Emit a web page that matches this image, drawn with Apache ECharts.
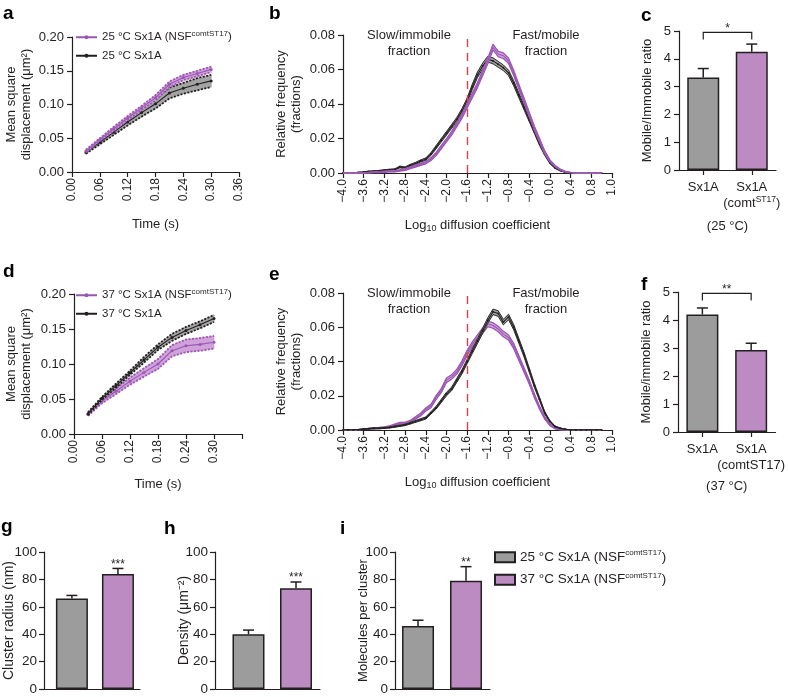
<!DOCTYPE html>
<html><head><meta charset="utf-8">
<script src="https://cdn.jsdelivr.net/npm/echarts@6/dist/echarts.min.js"></script>
<style>html,body{margin:0;padding:0;background:#fff}#c{width:788px;height:697px}</style>
</head><body><div id="c"></div><script>
const FONT = '"Liberation Sans", Arial, Helvetica, sans-serif';

// ---------- panels a & d : mean square displacement vs time ----------
const msdTime     = [0.03, 0.06, 0.09, 0.12, 0.15, 0.18, 0.21, 0.24, 0.27, 0.30];
const msd25Nsf    = [0.031, 0.048, 0.064, 0.080, 0.095, 0.110, 0.130, 0.140, 0.146, 0.152];
const msd25NsfSem = [0.002, 0.002, 0.003, 0.003, 0.003, 0.004, 0.004, 0.004, 0.004, 0.004];
const msd25Wt     = [0.029, 0.044, 0.059, 0.074, 0.088, 0.101, 0.117, 0.124, 0.130, 0.135];
const msd25WtSem  = [0.002, 0.003, 0.004, 0.005, 0.006, 0.007, 0.008, 0.008, 0.009, 0.009];
const msd37Nsf    = [0.028, 0.047, 0.061, 0.0755, 0.088, 0.100, 0.119, 0.126, 0.128, 0.131];
const msd37NsfSem = [0.002, 0.003, 0.004, 0.005, 0.006, 0.007, 0.008, 0.009, 0.009, 0.009];
const msd37Wt     = [0.029, 0.051, 0.069, 0.0875, 0.106, 0.124, 0.138, 0.148, 0.156, 0.165];
const msd37WtSem  = [0.002, 0.002, 0.003, 0.003, 0.004, 0.004, 0.005, 0.005, 0.005, 0.005];

// ---------- panels b & e : distribution of log10 diffusion coefficients ----------
const logD = [-4.0,-3.9,-3.8,-3.7,-3.6,-3.5,-3.4,-3.3,-3.2,-3.1,
              -3.0,-2.9,-2.8,-2.7,-2.6,-2.5,-2.4,-2.3,-2.2,-2.1,
              -2.0,-1.9,-1.8,-1.7,-1.6,-1.5,-1.4,-1.3,-1.2,-1.1,
              -1.0,-0.9,-0.8,-0.7,-0.6,-0.5,-0.4,-0.3,-0.2,-0.1,
               0.0, 0.1, 0.2, 0.3, 0.4, 0.5, 0.6, 0.7, 0.8, 0.9, 1.0];
const hist25Wt = [0,0,0,0.0003,0.0005,0.0008,0.001,0.0012,0.0015,0.0018,
                  0.002,0.0035,0.003,0.0045,0.0055,0.007,0.008,0.011,0.015,0.019,
                  0.023,0.027,0.031,0.036,0.042,0.050,0.057,0.062,0.066,0.065,
                  0.063,0.061,0.058,0.052,0.045,0.038,0.031,0.024,0.017,0.011,
                  0.006,0.003,0.0015,0.0005,0,0,0,0,0,0,0];
const hist25WtSem = [0,0,0,0.0002,0.0002,0.0003,0.0003,0.0003,0.0004,0.0004,
                  0.0004,0.0005,0.0005,0.0005,0.0006,0.0006,0.0007,0.0008,0.0009,0.001,
                  0.001,0.0011,0.0012,0.0013,0.0014,0.0015,0.0016,0.0017,0.0017,0.0017,
                  0.0017,0.0016,0.0016,0.0015,0.0014,0.0013,0.0012,0.0011,0.001,0.0008,
                  0.0006,0.0004,0.0003,0.0002,0,0,0,0,0,0,0];
const hist25Nsf = [0,0,0,0,0,0.0002,0.0004,0.0005,0.0007,0.0009,
                  0.001,0.0015,0.002,0.003,0.004,0.005,0.006,0.008,0.011,0.015,
                  0.019,0.023,0.028,0.033,0.039,0.045,0.051,0.058,0.065,0.073,
                  0.069,0.068,0.065,0.058,0.050,0.042,0.034,0.026,0.019,0.012,
                  0.007,0.004,0.002,0.0008,0.0003,0,0,0,0,0,0];
const hist25NsfSem = [0,0,0,0,0,0.0002,0.0002,0.0003,0.0003,0.0003,
                  0.0004,0.0004,0.0005,0.0005,0.0006,0.0006,0.0007,0.0008,0.0009,0.001,
                  0.001,0.0011,0.0012,0.0012,0.0013,0.0014,0.0015,0.0015,0.0016,0.0016,
                  0.0016,0.0016,0.0015,0.0015,0.0014,0.0013,0.0012,0.0011,0.001,0.0008,
                  0.0006,0.0004,0.0003,0.0002,0.0001,0,0,0,0,0,0];
const hist37Wt = [0,0,0,0.0002,0.0005,0.0008,0.001,0.001,0.0012,0.0015,
                  0.002,0.0025,0.003,0.004,0.005,0.006,0.007,0.010,0.013,0.017,
                  0.021,0.024,0.029,0.034,0.040,0.046,0.052,0.058,0.064,0.069,
                  0.068,0.063,0.066,0.060,0.052,0.044,0.035,0.026,0.018,0.010,
                  0.005,0.002,0.001,0.0004,0,0,0,0,0,0,0];
const hist37WtSem = [0,0,0,0.0001,0.0002,0.0002,0.0003,0.0003,0.0003,0.0003,
                  0.0004,0.0004,0.0004,0.0005,0.0005,0.0006,0.0006,0.0007,0.0008,0.0009,
                  0.001,0.001,0.0011,0.0012,0.0012,0.0013,0.0014,0.0015,0.0016,0.0016,
                  0.0016,0.0016,0.0016,0.0015,0.0014,0.0013,0.0012,0.0011,0.0009,0.0007,
                  0.0005,0.0003,0.0002,0.0001,0,0,0,0,0,0,0];
const hist37Nsf = [0,0,0,0.0002,0.0005,0.0007,0.001,0.0012,0.0015,0.002,
                  0.003,0.004,0.004,0.005,0.007,0.009,0.012,0.014,0.019,0.023,
                  0.029,0.031,0.034,0.039,0.045,0.050,0.054,0.058,0.062,0.061,
                  0.059,0.056,0.054,0.049,0.042,0.035,0.028,0.020,0.013,0.007,
                  0.003,0.001,0.0003,0,0,0,0,0,0,0,0];
const hist37NsfSem = [0,0,0,0.0001,0.0002,0.0002,0.0003,0.0003,0.0004,0.0004,
                  0.0005,0.0005,0.0005,0.0006,0.0007,0.0008,0.0009,0.001,0.0011,0.0012,
                  0.0013,0.0013,0.0014,0.0014,0.0015,0.0015,0.0016,0.0016,0.0016,0.0016,
                  0.0016,0.0016,0.0015,0.0015,0.0014,0.0013,0.0012,0.0011,0.0009,0.0007,
                  0.0005,0.0003,0.0002,0,0,0,0,0,0,0,0];
const mobilityThreshold = -1.6;
const logDTickLabels = ['\u22124.0','\u22123.6','\u22123.2','\u22122.8','\u22122.4','\u22122.0','\u22121.6',
                        '\u22121.2','\u22120.8','\u22120.4','0.0','0.4','0.8','1.0'];

// ---------- panels c & f : mobile / immobile ratio ----------
const ratioCats25 = ['Sx1A', 'Sx1A\n(comt{sup|ST17})'];
const ratio25     = [3.33, 4.25];
const ratio25Err  = [0.32, 0.28];
const ratio25Sig  = '*';
const ratioCats37 = ['Sx1A', 'Sx1A\n(comtST17)'];
const ratio37     = [4.20, 2.93];
const ratio37Err  = [0.23, 0.24];
const ratio37Sig  = '**';
const bracketLevel = 4.95;

// ---------- panels g, h, i : cluster analysis ----------
const groups      = ['25 \u00b0C Sx1A (NSFcomtST17)\u200b', '37 \u00b0C Sx1A (NSFcomtST17)\u200b'];
const radius      = [66, 84];
const radiusErr   = [2.3, 4.0];
const radiusSig   = ['', '***'];
const density     = [40, 73.5];
const densityErr  = [3.0, 4.6];
const densitySig  = ['', '***'];
const molecules   = [46, 79];
const moleculesErr= [4.2, 10.3];
const moleculesSig= ['', '**'];

// ---------- styling ----------
const INK = '#231f20';
const GRAY = '#9c9c9c';
const PURPLE = '#bb8bc1';
const PLINE = '#9b55b3';
const PBAND = '#cfa2da';
const GBAND = '#a4a4a4';

const grids = [
  {left:72,  top:37,  width:167, height:135}, // a
  {left:343, top:35,  width:269, height:138}, // b
  {left:679, top:31,  width:97,  height:139}, // c
  {left:74,  top:294, width:168, height:140}, // d
  {left:343, top:293, width:269, height:137}, // e
  {left:678, top:292, width:98,  height:140}, // f
  {left:42,  top:552, width:98,  height:137}, // g
  {left:215, top:552, width:105, height:137}, // h
  {left:395, top:552, width:95,  height:137}  // i
];

const axLine = {show:true, onZero:false, lineStyle:{color:INK, width:1.2}};
const axTick = {show:true, length:5, lineStyle:{color:INK, width:1.2}};
function txt(fs){ return {color:INK, fontFamily:FONT, fontSize:fs}; }

function yAx(gi, min, max, interval, fmt, name, nameGap, fs, nfs, margin){
  return {type:'value', gridIndex:gi, min, max, interval,
    axisLine:axLine, axisTick:axTick, splitLine:{show:false},
    axisLabel:Object.assign(txt(fs), {margin:margin || 8, formatter:fmt}),
    name, nameLocation:'middle', nameGap, nameRotate:90, nameMoveOverlap:false,
    nameTextStyle:Object.assign(txt(nfs || fs), {lineHeight:(nfs || fs)+2})};
}
const f2 = v => v.toFixed(2);
const f0 = v => String(Math.round(v));

function logLabel(v){
  const idx = Math.round((v + 4.0) / 0.4);
  return logDTickLabels[idx] || '';
}
const subRich = {sub:{fontFamily:FONT, fontSize:9, color:INK, verticalAlign:'bottom', padding:[6,0,0,0]}};

const xAxes = [
  {type:'value', gridIndex:0, min:0, max:0.36, interval:0.06, axisLine:axLine, axisTick:axTick, splitLine:{show:false},
   axisLabel:Object.assign(txt(12), {rotate:90, margin:6, formatter:f2}),
   name:'Time (s)', nameLocation:'middle', nameGap:46, nameMoveOverlap:false, nameTextStyle:txt(13)},
  {type:'value', gridIndex:1, min:-4.0, max:1.2, interval:0.4, axisLine:axLine, axisTick:axTick, splitLine:{show:false},
   axisLabel:Object.assign(txt(12), {rotate:90, margin:6, formatter:logLabel}),
   name:'Log{sub|10} diffusion coefficient', nameLocation:'middle', nameGap:45, nameMoveOverlap:false,
   nameTextStyle:Object.assign(txt(13), {rich:subRich})},
  {type:'category', gridIndex:2, data:ratioCats25, axisLine:axLine, axisTick:Object.assign({alignWithLabel:true}, axTick),
   axisLabel:Object.assign(txt(13), {margin:9, lineHeight:16, interval:0, rich:{sup:{fontFamily:FONT, fontSize:8.5, color:INK, verticalAlign:'top', lineHeight:9}}}),
   name:'(25 \u00b0C)', nameLocation:'middle', nameGap:50, nameMoveOverlap:false, nameTextStyle:txt(13)},
  {type:'value', gridIndex:3, min:0, max:0.36, interval:0.06, axisLine:axLine, axisTick:axTick, splitLine:{show:false},
   axisLabel:Object.assign(txt(12), {rotate:90, margin:6, formatter:v => v > 0.35 ? '' : v.toFixed(2)}),
   name:'Time (s)', nameLocation:'middle', nameGap:44, nameMoveOverlap:false, nameTextStyle:txt(13)},
  {type:'value', gridIndex:4, min:-4.0, max:1.2, interval:0.4, axisLine:axLine, axisTick:axTick, splitLine:{show:false},
   axisLabel:Object.assign(txt(12), {rotate:90, margin:6, formatter:logLabel}),
   name:'Log{sub|10} diffusion coefficient', nameLocation:'middle', nameGap:45, nameMoveOverlap:false,
   nameTextStyle:Object.assign(txt(13), {rich:subRich})},
  {type:'category', gridIndex:5, data:ratioCats37, axisLine:axLine, axisTick:Object.assign({alignWithLabel:true}, axTick),
   axisLabel:Object.assign(txt(13), {margin:9, lineHeight:16, interval:0}),
   name:'(37 \u00b0C)', nameLocation:'middle', nameGap:48, nameMoveOverlap:false, nameTextStyle:txt(13)},
  {type:'value', gridIndex:6, min:-0.606, max:1.479, axisLine:axLine, axisTick:{show:false}, axisLabel:{show:false}, splitLine:{show:false}},
  {type:'value', gridIndex:7, min:-0.705, max:1.505, axisLine:axLine, axisTick:{show:false}, axisLabel:{show:false}, splitLine:{show:false}},
  {type:'value', gridIndex:8, min:-0.48,  max:1.5,   axisLine:axLine, axisTick:{show:false}, axisLabel:{show:false}, splitLine:{show:false}}
];

const yAxes = [
  yAx(0, 0, 0.20, 0.05, f2, 'Mean square\ndisplacement (\u03bcm\u00b2)', 38, 13),
  yAx(1, 0, 0.08, 0.02, f2, 'Relative frequency\n(fractions)', 39, 13),
  yAx(2, 0, 5, 1, f0, 'Mobile/Immobile ratio', 24, 13),
  yAx(3, 0, 0.20, 0.05, f2, 'Mean square\ndisplacement (\u03bcm\u00b2)', 40, 13),
  yAx(4, 0, 0.08, 0.02, f2, 'Relative frequency\n(fractions)', 39, 13),
  yAx(5, 0, 5, 1, f0, 'Mobile/immobile ratio', 24, 13),
  yAx(6, 0, 100, 20, f0, 'Cluster radius (nm)', 27, 13.5, 14, 7),
  yAx(7, 0, 100, 20, f0, 'Density (\u03bcm\u207b\u00b2)', 23, 13.5, 14, 7),
  yAx(8, 0, 100, 20, f0, 'Molecules per cluster', 24, 13.5, 13, 7)
];

// ---------- series helpers ----------
function band(gi, xs, mean, sem, fill, z){
  return {type:'custom', xAxisIndex:gi, yAxisIndex:gi, silent:true, z,
    data: xs.map((x,i) => [x, mean[i]-sem[i], mean[i]+sem[i]]),
    encode:{x:0, y:[1,2]},
    renderItem(params, api){
      const i = params.dataIndex;
      if (i >= xs.length-1) return;
      const a0 = api.coord([api.value(0), api.value(1)]);
      const a1 = api.coord([api.value(0), api.value(2)]);
      const b0 = api.coord([xs[i+1], mean[i+1]-sem[i+1]]);
      const b1 = api.coord([xs[i+1], mean[i+1]+sem[i+1]]);
      return {type:'polygon', shape:{points:[a0,b0,b1,a1]}, style:{fill, stroke:fill, lineWidth:0.8}};
    }};
}
function line(gi, name, xs, ys, color, width, type, symSize, z){
  return {type:'line', name, xAxisIndex:gi, yAxisIndex:gi, silent:true, z,
    data: xs.map((x,i) => [x, ys[i]]),
    symbol: symSize ? 'circle' : 'none', symbolSize: symSize || 0, showSymbol: !!symSize,
    lineStyle:{color, width, type}, itemStyle:{color}};
}
function withSem(gi, name, xs, mean, sem, lineColor, fill, edgeType, edgeW, meanSym, z){
  const lo = mean.map((m,i) => m - sem[i]);
  const hi = mean.map((m,i) => m + sem[i]);
  return [
    band(gi, xs, mean, sem, fill, z),
    line(gi, name + ' lower', xs, lo, lineColor, edgeW, edgeType, 0, z+0.1),
    line(gi, name + ' upper', xs, hi, lineColor, edgeW, edgeType, 0, z+0.1),
    line(gi, name, xs, mean, lineColor, 1.1, 'solid', meanSym, z+0.2)
  ];
}
function errBars(gi, xs, vals, errs, sigs){
  return {type:'custom', xAxisIndex:gi, yAxisIndex:gi, silent:true, z:5,
    data: xs.map((x,i) => [x, vals[i], errs[i]]),
    encode:{x:0, y:1},
    renderItem(params, api){
      const p0 = api.coord([api.value(0), api.value(1)]);
      const p1 = api.coord([api.value(0), api.value(1) + api.value(2)]);
      const ch = [
        {type:'line', shape:{x1:p0[0], y1:p0[1], x2:p1[0], y2:p1[1]}, style:{stroke:INK, lineWidth:1.5}},
        {type:'line', shape:{x1:p1[0]-5.5, y1:p1[1], x2:p1[0]+5.5, y2:p1[1]}, style:{stroke:INK, lineWidth:1.5}}
      ];
      const s = sigs && sigs[params.dataIndex];
      if (s) ch.push({type:'text', style:{text:s, x:p1[0], y:p1[1]+2, align:'center', verticalAlign:'bottom', fontSize:12, fontFamily:FONT, fill:INK}});
      return {type:'group', children:ch};
    }};
}
function bracket(gi, level, mark){
  return {type:'custom', xAxisIndex:gi, yAxisIndex:gi, silent:true, z:5,
    data:[[0, level], [1, level]],
    encode:{x:0, y:1},
    renderItem(params, api){
      if (params.dataIndex !== 0) return;
      const p0 = api.coord([0, api.value(1)]);
      const p1 = api.coord([1, api.value(1)]);
      return {type:'group', children:[
        {type:'polyline', shape:{points:[[p0[0], p0[1]+7], p0, p1, [p1[0], p1[1]+7]]}, style:{stroke:INK, lineWidth:1.2, fill:null}},
        {type:'text', style:{text:mark, x:(p0[0]+p1[0])/2, y:p0[1]+2, align:'center', verticalAlign:'bottom', fontSize:12, fontFamily:FONT, fill:INK}}
      ]};
    }};
}
function bars(gi, xs, vals, nameG, nameP){
  const base = {type:'bar', xAxisIndex:gi, yAxisIndex:gi, barWidth:32, barGap:'-100%', silent:true};
  return [
    Object.assign({}, base, {name:nameG, data:[[xs[0], vals[0]]], itemStyle:{color:GRAY, borderColor:INK, borderWidth:1.5}}),
    Object.assign({}, base, {name:nameP, data:[[xs[1], vals[1]]], itemStyle:{color:PURPLE, borderColor:INK, borderWidth:1.5}})
  ];
}

const N25 = '25 \u00b0C Sx1A (NSFcomtST17)', W25 = '25 \u00b0C Sx1A';
const N37 = '37 \u00b0C Sx1A (NSFcomtST17)', W37 = '37 \u00b0C Sx1A';

function threshold(gi){
  return {type:'line', xAxisIndex:gi, yAxisIndex:gi, data:[], silent:true, z:4,
    markLine:{silent:true, symbol:['none','none'], label:{show:false}, animation:false,
      lineStyle:{color:'#d9434d', type:[8,6], width:1.4}, data:[{xAxis:mobilityThreshold}]}};
}

const series = [].concat(
  // a
  withSem(0, W25, msdTime, msd25Wt, msd25WtSem, INK, GBAND, [2,1.5], 1.8, 3, 2),
  withSem(0, N25, msdTime, msd25Nsf, msd25NsfSem, PLINE, PBAND, [2,1.5], 1.8, 3, 3),
  // b
  withSem(1, 'b wt', logD, hist25Wt, hist25WtSem, INK, GBAND, 'solid', 0.9, 2, 2),
  withSem(1, 'b nsf', logD, hist25Nsf, hist25NsfSem, PLINE, PBAND, 'solid', 1.2, 0, 3),
  [threshold(1)],
  // c
  bars(2, [0,1], ratio25, 'c g', 'c p'),
  [errBars(2, [0,1], ratio25, ratio25Err, null), bracket(2, bracketLevel, ratio25Sig)],
  // d
  withSem(3, N37, msdTime, msd37Nsf, msd37NsfSem, PLINE, PBAND, [2,1.5], 1.8, 3, 2),
  withSem(3, W37, msdTime, msd37Wt, msd37WtSem, INK, GBAND, [2,1.5], 1.8, 3, 3),
  // e
  withSem(4, 'e nsf', logD, hist37Nsf, hist37NsfSem, PLINE, PBAND, 'solid', 1.2, 0, 2),
  withSem(4, 'e wt', logD, hist37Wt, hist37WtSem, INK, GBAND, 'solid', 0.9, 2, 3),
  [threshold(4)],
  // f
  bars(5, [0,1], ratio37, 'f g', 'f p'),
  [errBars(5, [0,1], ratio37, ratio37Err, null), bracket(5, bracketLevel, ratio37Sig)],
  // g h i
  bars(6, [0,1], radius, groups[0], groups[1]),
  [errBars(6, [0,1], radius, radiusErr, radiusSig)],
  bars(7, [0,1], density, groups[0], groups[1]),
  [errBars(7, [0,1], density, densityErr, densitySig)],
  bars(8, [0,1], molecules, groups[0], groups[1]),
  [errBars(8, [0,1], molecules, moleculesErr, moleculesSig)]
);

const supRich = {sup:{fontFamily:FONT, fontSize:8, color:INK, verticalAlign:'top', lineHeight:8}};
const legFmt = n => n.replace('\u200b','').replace('comtST17', '{sup|comtST17}');
function legend(left, top, data, fs, icon, iw, ih, gap){
  const l = {left, top, orient:'vertical', data, itemWidth:iw, itemHeight:ih, itemGap:gap, selectedMode:false,
    formatter:legFmt, textStyle:Object.assign(txt(fs), {lineHeight:fs+3, rich:supRich}), padding:0};
  if (icon) l.icon = icon;
  return l;
}

function label(x, y, t){
  return {type:'text', x, y, style:{text:t, font:'bold 19px ' + FONT, fill:'#000'}};
}
function note(x, y, t){
  return {type:'text', x, y, style:{text:t, font:'13px ' + FONT, fill:INK, align:'center', lineHeight:16}};
}

const option = {
  animation:false,
  backgroundColor:'#fff',
  grid: grids,
  xAxis: xAxes,
  yAxis: yAxes,
  legend: [
    legend(75, 30, [N25, W25], 11.5, null, 21, 5, 4),
    legend(75, 288, [N37, W37], 11.5, null, 21, 5, 4),
    legend(494, 549, groups, 13.5, 'rect', 20, 10, 6)
  ],
  graphic: [
    label(3, 4, 'a'), label(269, 4, 'b'), label(641, 6, 'c'),
    label(3, 262, 'd'), label(269, 265, 'e'), label(641, 275, 'f'),
    label(1, 517, 'g'), label(164, 519, 'h'), label(340, 519, 'i'),
    note(409, 27, 'Slow/immobile\nfraction'), note(546, 27, 'Fast/mobile\nfraction'),
    note(409, 285, 'Slow/immobile\nfraction'), note(546, 285, 'Fast/mobile\nfraction')
  ],
  series
};

const chart = echarts.init(document.getElementById('c'), null, {renderer:'canvas', width:788, height:697});
chart.setOption(option);
</script></body></html>
